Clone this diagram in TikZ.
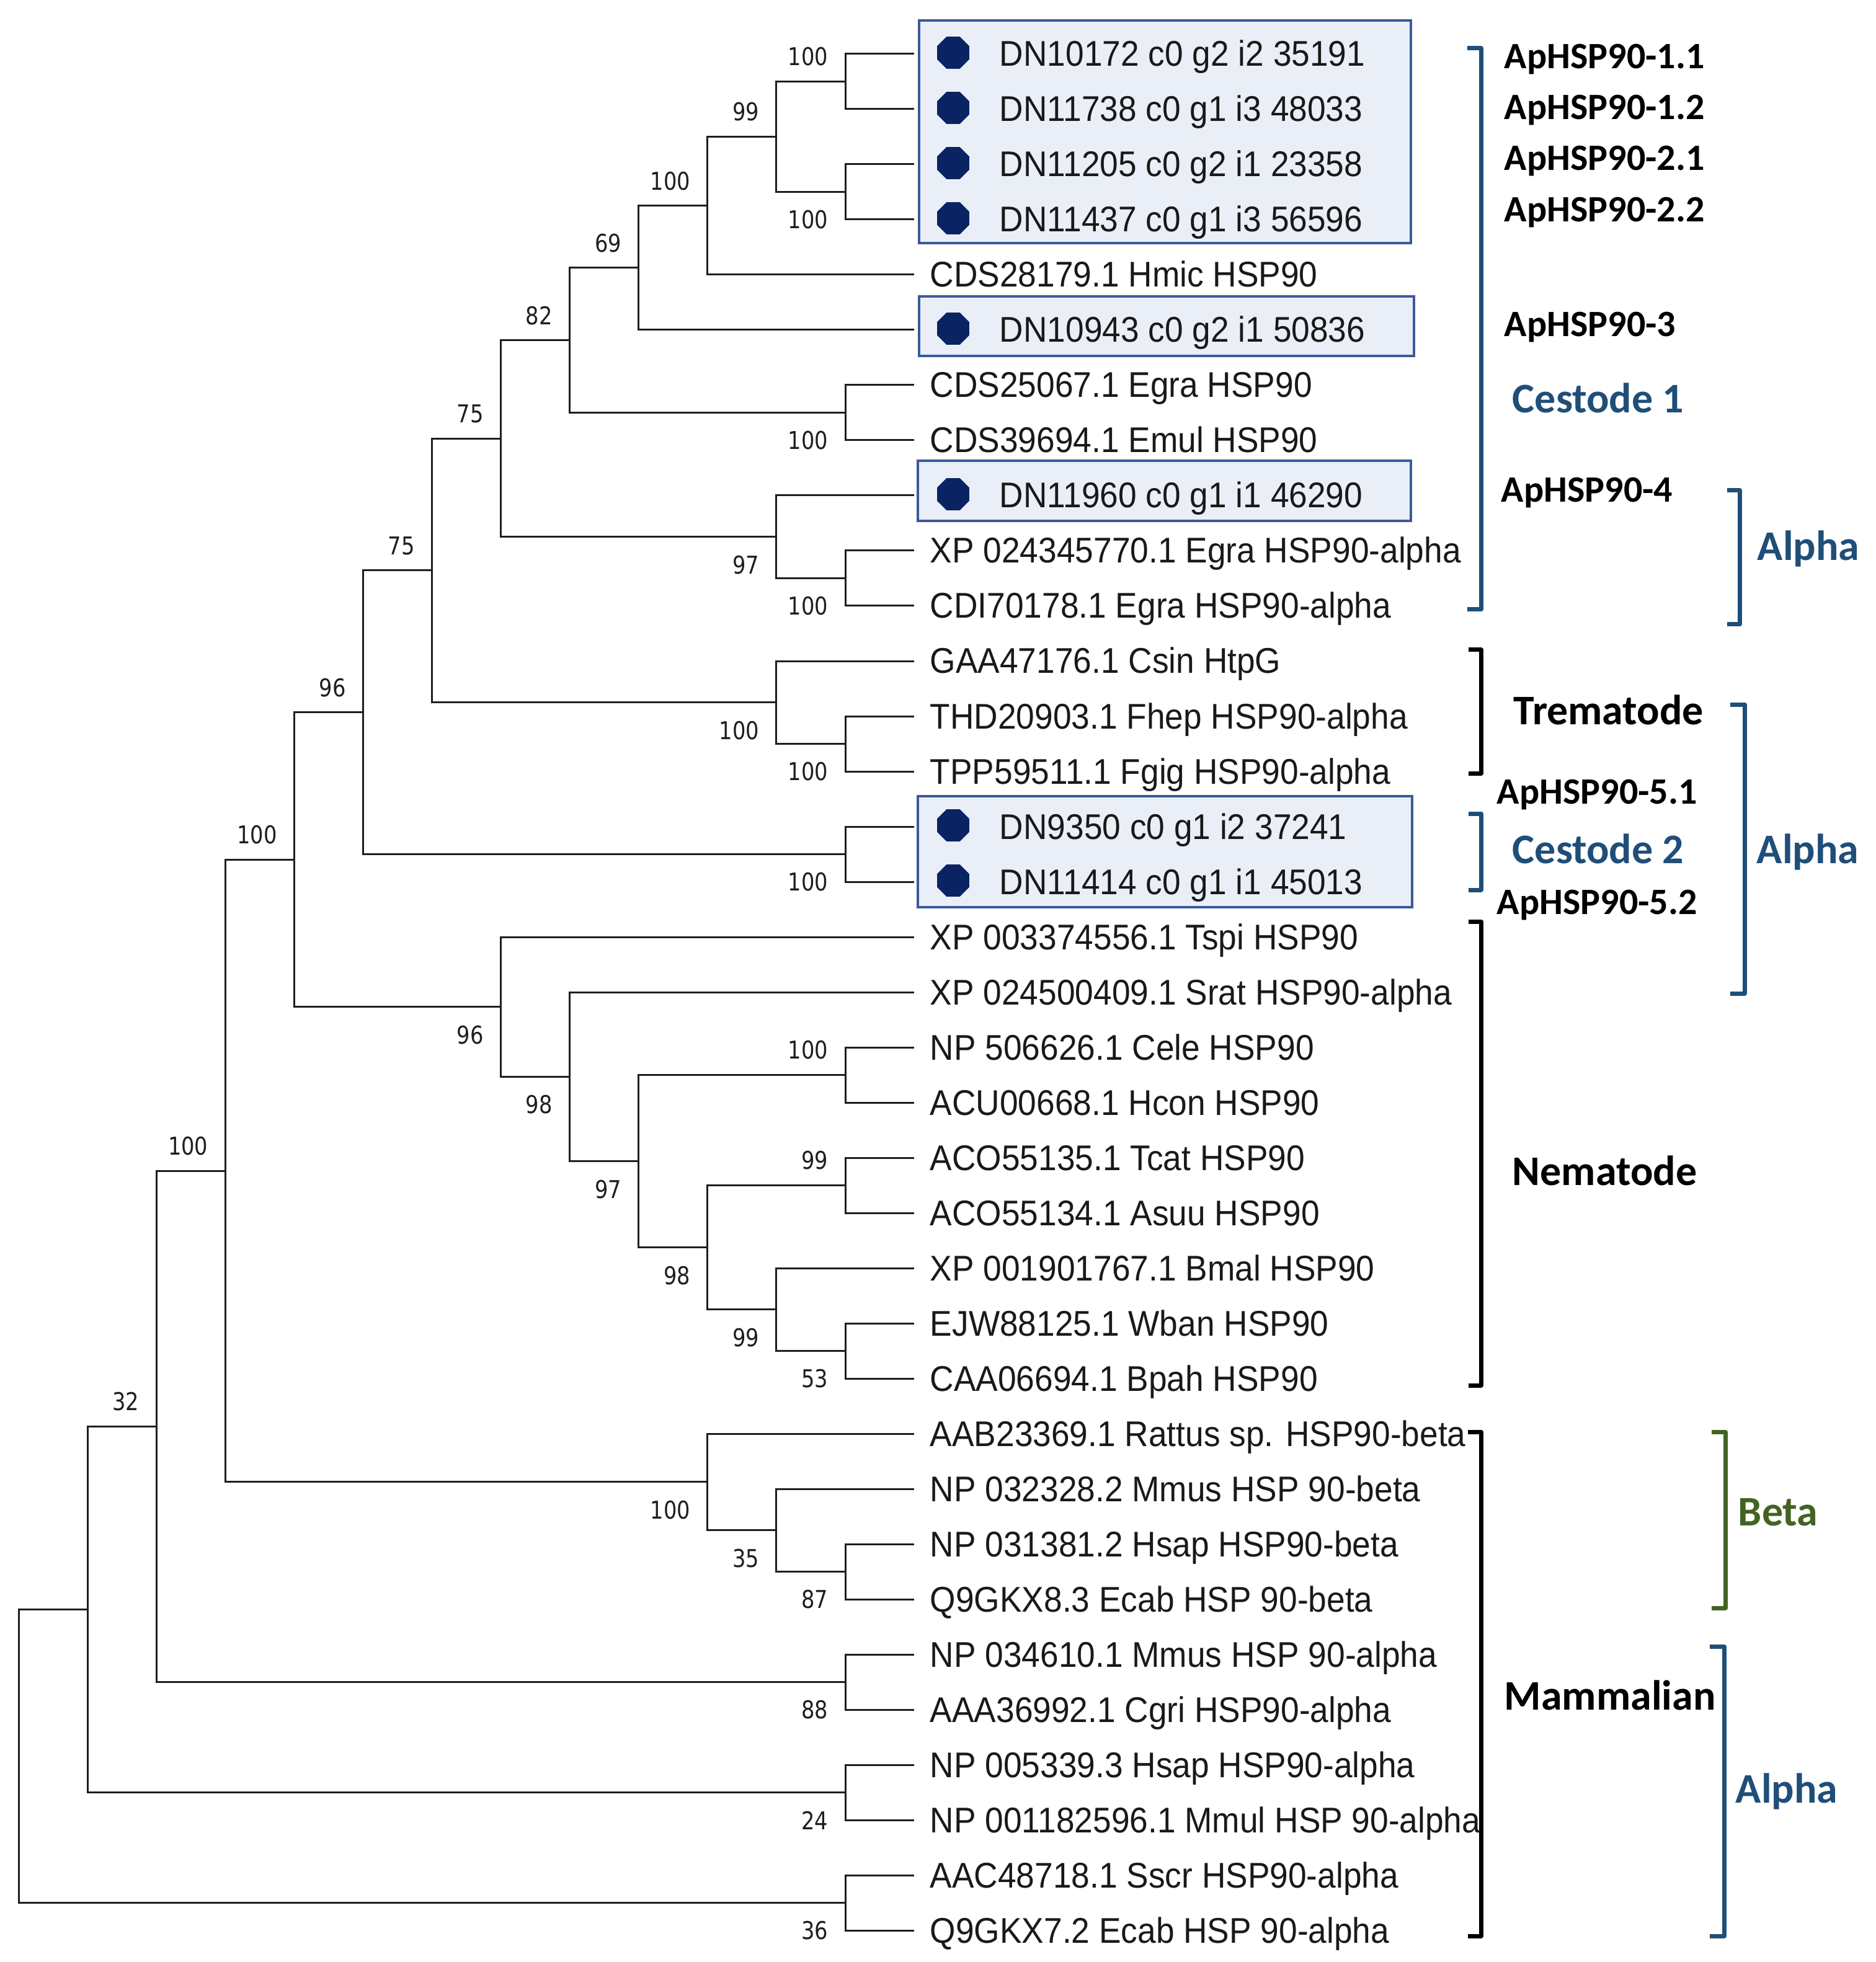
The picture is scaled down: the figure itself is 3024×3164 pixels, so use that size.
\documentclass[tikz,border=0pt]{standalone}
\usepackage{fontspec}
\usetikzlibrary{shapes.geometric}
\newfontfamily\leaffont{Liberation Sans}[FakeStretch=0.925]
\newfontfamily\bsfont{DejaVu Sans}[FakeStretch=0.85]
\newfontfamily\grpfont{Carlito}
\definecolor{treeC}{RGB}{30,30,30}
\definecolor{leafC}{RGB}{25,25,25}
\definecolor{boxC}{RGB}{60,90,155}
\definecolor{boxF}{RGB}{234,239,247}
\definecolor{dotC}{RGB}{10,36,99}
\definecolor{blueC}{RGB}{31,78,121}
\definecolor{greenC}{RGB}{67,99,35}
\tikzset{
  br/.style={line width=0.75pt, draw=treeC},
  leaf/.style={font=\leaffont\fontsize{14.4}{16}\selectfont, text=leafC, inner sep=0pt, anchor=base west},
  bs/.style={font=\bsfont\fontsize{9.9}{11}\selectfont, text=treeC, inner sep=0pt, anchor=east},
  bsup/.style={bs, xshift=-6.75pt, yshift=10pt},
  bsdn/.style={bs, xshift=-6.75pt, yshift=-11.25pt},
  hbox/.style={draw=boxC, fill=boxF, line width=1.15pt},
  dotn/.style={regular polygon, regular polygon sides=8, fill=dotC, inner sep=0pt, minimum size=14pt},
  grp/.style={font=\grpfont\bfseries\fontsize{17}{20}\selectfont, inner sep=0pt, anchor=base west},
  aph/.style={font=\grpfont\bfseries\fontsize{15}{18}\selectfont, inner sep=0pt, anchor=base west},
  brk/.style={line width=1.75pt, line join=round},
}
\begin{document}
\begin{tikzpicture}[x=0.25pt,y=-0.25pt]
\useasboundingbox (0,0) rectangle (3024,3164);

% highlight boxes
\draw[hbox] (1482,33) rectangle (2275,392);
\draw[hbox] (1482,478) rectangle (2280,574);
\draw[hbox] (1480,743) rectangle (2275,840);
\draw[hbox] (1480,1284) rectangle (2277,1463);

% leaf tips
\foreach \i in {1,...,35} \coordinate (L\i) at (1474,{87+89*(\i-1)});

% internal nodes
\coordinate (nA) at (1363,131.5);
\coordinate (nB) at (1363,309.5);
\coordinate (nC) at (1251.9,220.5);
\coordinate (nD) at (1140.8,331.75);
\coordinate (nE) at (1029.7,431.9);
\coordinate (nF) at (1363,665.5);
\coordinate (nG) at (918.6,548.7);
\coordinate (nH) at (1363,932.5);
\coordinate (nI) at (1251.9,865.75);
\coordinate (nJ) at (807.6,707.2);
\coordinate (nK) at (1363,1199.5);
\coordinate (nL) at (1251.9,1132.75);
\coordinate (nM) at (696.5,920);
\coordinate (nN) at (1363,1377.5);
\coordinate (nO) at (585.4,1148.75);
\coordinate (nP) at (1363,1733.5);
\coordinate (nQ) at (1363,1911.5);
\coordinate (nR) at (1363,2178.5);
\coordinate (nS) at (1251.9,2111.75);
\coordinate (nT) at (1140.8,2011.6);
\coordinate (nU) at (1029.7,1872.6);
\coordinate (nV) at (918.6,1736.3);
\coordinate (nW) at (807.6,1623.6);
\coordinate (nX) at (474.3,1386.2);
\coordinate (nY) at (1363,2534.5);
\coordinate (nZ) at (1251.9,2467.75);
\coordinate (nAA) at (1140.8,2389.9);
\coordinate (nAB) at (363.2,1888);
\coordinate (nAC) at (1363,2712.5);
\coordinate (nAD) at (252.2,2300.3);
\coordinate (nAE) at (1363,2890.5);
\coordinate (nAF) at (141.1,2595.4);
\coordinate (nAG) at (1363,3068.5);
\coordinate (nRoot) at (30,2832);

% branches
\draw[br] (L1) -| (nA) |- (L2);
\draw[br] (L3) -| (nB) |- (L4);
\draw[br] (nA) -| (nC) |- (nB);
\draw[br] (nC) -| (nD) |- (L5);
\draw[br] (nD) -| (nE) |- (L6);
\draw[br] (L7) -| (nF) |- (L8);
\draw[br] (nE) -| (nG) |- (nF);
\draw[br] (L10) -| (nH) |- (L11);
\draw[br] (L9) -| (nI) |- (nH);
\draw[br] (nG) -| (nJ) |- (nI);
\draw[br] (L13) -| (nK) |- (L14);
\draw[br] (L12) -| (nL) |- (nK);
\draw[br] (nJ) -| (nM) |- (nL);
\draw[br] (L15) -| (nN) |- (L16);
\draw[br] (nM) -| (nO) |- (nN);
\draw[br] (L19) -| (nP) |- (L20);
\draw[br] (L21) -| (nQ) |- (L22);
\draw[br] (L24) -| (nR) |- (L25);
\draw[br] (L23) -| (nS) |- (nR);
\draw[br] (nQ) -| (nT) |- (nS);
\draw[br] (nP) -| (nU) |- (nT);
\draw[br] (L18) -| (nV) |- (nU);
\draw[br] (L17) -| (nW) |- (nV);
\draw[br] (nO) -| (nX) |- (nW);
\draw[br] (L28) -| (nY) |- (L29);
\draw[br] (L27) -| (nZ) |- (nY);
\draw[br] (L26) -| (nAA) |- (nZ);
\draw[br] (nX) -| (nAB) |- (nAA);
\draw[br] (L30) -| (nAC) |- (L31);
\draw[br] (nAB) -| (nAD) |- (nAC);
\draw[br] (L32) -| (nAE) |- (L33);
\draw[br] (nAD) -| (nAF) |- (nAE);
\draw[br] (L34) -| (nAG) |- (L35);
\draw[br] (nAF) -| (nRoot) |- (nAG);

% bootstrap values
\node[bsup] (bA) at (nA) {100};
\node[bsdn] (bB) at (nB) {100};
\node[bsup] (bC) at (nC) {99};
\node[bsup] (bD) at (nD) {100};
\node[bsup] (bE) at (nE) {69};
\node[bsdn] (bF) at (nF) {100};
\node[bsup] (bG) at (nG) {82};
\node[bsdn] (bH) at (nH) {100};
\node[bsdn] (bI) at (nI) {97};
\node[bsup] (bJ) at (nJ) {75};
\node[bsdn] (bK) at (nK) {100};
\node[bsdn] (bL) at (nL) {100};
\node[bsup] (bM) at (nM) {75};
\node[bsdn] (bN) at (nN) {100};
\node[bsup] (bO) at (nO) {96};
\node[bsup] (bP) at (nP) {100};
\node[bsup] (bQ) at (nQ) {99};
\node[bsdn] (bR) at (nR) {53};
\node[bsdn] (bS) at (nS) {99};
\node[bsdn] (bT) at (nT) {98};
\node[bsdn] (bU) at (nU) {97};
\node[bsdn] (bV) at (nV) {98};
\node[bsdn] (bW) at (nW) {96};
\node[bsup] (bX) at (nX) {100};
\node[bsdn] (bY) at (nY) {87};
\node[bsdn] (bZ) at (nZ) {35};
\node[bsdn] (bAA) at (nAA) {100};
\node[bsup] (bAB) at (nAB) {100};
\node[bsdn] (bAC) at (nAC) {88};
\node[bsup] (bAD) at (nAD) {32};
\node[bsdn] (bAE) at (nAE) {24};
\node[bsdn] (bAG) at (nAG) {36};

% dots for boxed leaves
\foreach \i in {1,2,3,4,6,9,15,16} \node[dotn] (d\i) at (1537,{85+89*(\i-1)}) {};

% leaf labels
\node[leaf] (t1) at (1611,107) {DN10172 c0 g2 i2 35191};
\node[leaf] (t2) at (1611,196) {DN11738 c0 g1 i3 48033};
\node[leaf] (t3) at (1611,285) {DN11205 c0 g2 i1 23358};
\node[leaf] (t4) at (1611,374) {DN11437 c0 g1 i3 56596};
\node[leaf] (t5) at (1499,463) {CDS28179.1 Hmic HSP90};
\node[leaf] (t6) at (1611,552) {DN10943 c0 g2 i1 50836};
\node[leaf] (t7) at (1499,641) {CDS25067.1 Egra HSP90};
\node[leaf] (t8) at (1499,730) {CDS39694.1 Emul HSP90};
\node[leaf] (t9) at (1611,819) {DN11960 c0 g1 i1 46290};
\node[leaf] (t10) at (1499,908) {XP 024345770.1 Egra HSP90-alpha};
\node[leaf] (t11) at (1499,997) {CDI70178.1 Egra HSP90-alpha};
\node[leaf] (t12) at (1499,1086) {GAA47176.1 Csin HtpG};
\node[leaf] (t13) at (1499,1175) {THD20903.1 Fhep HSP90-alpha};
\node[leaf] (t14) at (1499,1264) {TPP59511.1 Fgig HSP90-alpha};
\node[leaf] (t15) at (1611,1353) {DN9350 c0 g1 i2 37241};
\node[leaf] (t16) at (1611,1442) {DN11414 c0 g1 i1 45013};
\node[leaf] (t17) at (1499,1531) {XP 003374556.1 Tspi HSP90};
\node[leaf] (t18) at (1499,1620) {XP 024500409.1 Srat HSP90-alpha};
\node[leaf] (t19) at (1499,1709) {NP 506626.1 Cele HSP90};
\node[leaf] (t20) at (1499,1798) {ACU00668.1 Hcon HSP90};
\node[leaf] (t21) at (1499,1887) {ACO55135.1 Tcat HSP90};
\node[leaf] (t22) at (1499,1976) {ACO55134.1 Asuu HSP90};
\node[leaf] (t23) at (1499,2065) {XP 001901767.1 Bmal HSP90};
\node[leaf] (t24) at (1499,2154) {EJW88125.1 Wban HSP90};
\node[leaf] (t25) at (1499,2243) {CAA06694.1 Bpah HSP90};
\node[leaf] (t26) at (1499,2332) {AAB23369.1 Rattus sp. HSP90-beta};
\node[leaf] (t27) at (1499,2421) {NP 032328.2 Mmus HSP 90-beta};
\node[leaf] (t28) at (1499,2510) {NP 031381.2 Hsap HSP90-beta};
\node[leaf] (t29) at (1499,2599) {Q9GKX8.3 Ecab HSP 90-beta};
\node[leaf] (t30) at (1499,2688) {NP 034610.1 Mmus HSP 90-alpha};
\node[leaf] (t31) at (1499,2777) {AAA36992.1 Cgri HSP90-alpha};
\node[leaf] (t32) at (1499,2866) {NP 005339.3 Hsap HSP90-alpha};
\node[leaf] (t33) at (1499,2955) {NP 001182596.1 Mmul HSP 90-alpha};
\node[leaf] (t34) at (1499,3044) {AAC48718.1 Sscr HSP90-alpha};
\node[leaf] (t35) at (1499,3133) {Q9GKX7.2 Ecab HSP 90-alpha};

% brackets
\draw[brk, blueC] (2366,78) -- (2388,78) -- (2388,983) -- (2366,983);
\draw[brk, blueC] (2785,791) -- (2805,791) -- (2805,1007) -- (2785,1007);
\draw[brk, black] (2368,1048) -- (2388,1048) -- (2388,1247) -- (2368,1247);
\draw[brk, blueC] (2368,1312) -- (2388,1312) -- (2388,1435) -- (2368,1435);
\draw[brk, blueC] (2790,1136) -- (2813,1136) -- (2813,1602) -- (2790,1602);
\draw[brk, black] (2368,1486) -- (2388,1486) -- (2388,2234) -- (2368,2234);
\draw[brk, black] (2367,2309) -- (2388,2309) -- (2388,3122) -- (2367,3122);
\draw[brk, greenC] (2760,2309) -- (2782,2309) -- (2782,2593) -- (2760,2593);
\draw[brk, blueC] (2757,2655) -- (2780,2655) -- (2780,3122) -- (2757,3122);

% group labels
\node[aph] (g1) at (2425,111) {ApHSP90-1.1};
\node[aph] (g2) at (2425,193) {ApHSP90-1.2};
\node[aph] (g3) at (2425,275) {ApHSP90-2.1};
\node[aph] (g4) at (2425,358) {ApHSP90-2.2};
\node[aph] (g5) at (2425,543) {ApHSP90-3};
\node[grp, text=blueC] (g6) at (2438,666) {Cestode 1};
\node[aph] (g7) at (2420,810) {ApHSP90-4};
\node[grp, text=blueC] (g8) at (2833,904) {Alpha};
\node[grp] (g9) at (2440,1168) {Trematode};
\node[aph] (g10) at (2413,1296) {ApHSP90-5.1};
\node[grp, text=blueC] (g11) at (2438,1392) {Cestode 2};
\node[aph] (g12) at (2413,1474) {ApHSP90-5.2};
\node[grp, text=blueC] (g13) at (2832,1392) {Alpha};
\node[grp] (g14) at (2438,1911) {Nematode};
\node[grp, text=greenC] (g15) at (2802,2460) {Beta};
\node[grp] (g16) at (2425,2757) {Mammalian};
\node[grp, text=blueC] (g17) at (2798,2907) {Alpha};
\end{tikzpicture}
\end{document}
